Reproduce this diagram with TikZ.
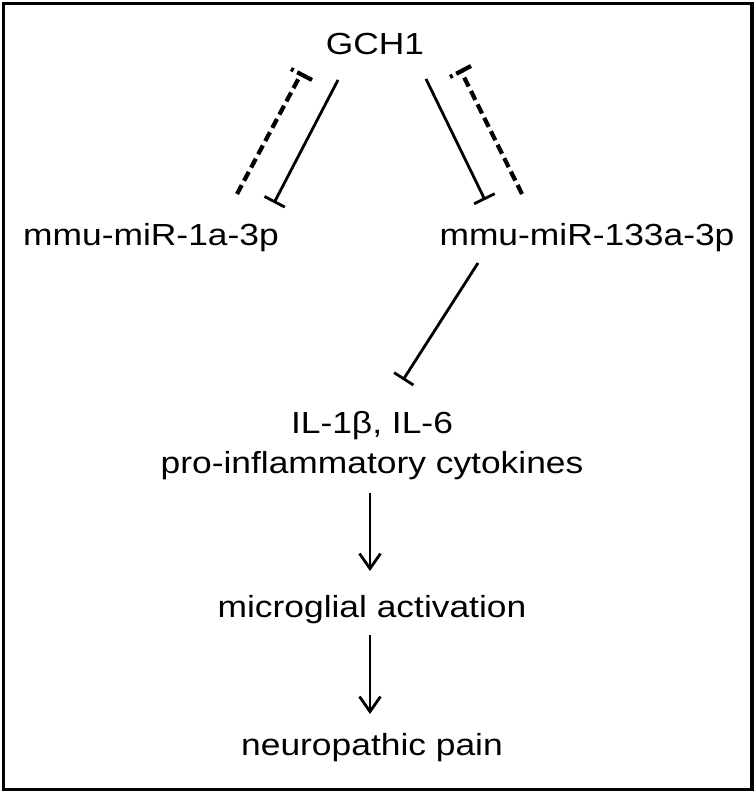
\documentclass[tikz,border=0pt]{standalone}
\usepackage{fontspec}
\setmainfont{Liberation Sans}
\usepackage{graphicx}
\usetikzlibrary{arrows.meta}
\tikzset{
  lbl/.style={anchor=base, inner sep=0pt, font=\fontsize{30.5bp}{36bp}\selectfont},
  inhib/.style={line width=2.8bp, -{Bar[width=23bp, line width=2.8bp]}},
  dashline/.style={line width=4.2bp, dash pattern=on 10bp off 5bp},
  dashbar/.style={line width=4.2bp, dash pattern=on 3bp off 4bp on 20bp off 0bp},
  act/.style={line width=2.8bp, -{Straight Barb[length=15bp, width=21bp, line width=2.8bp]}},
}
\newcommand{\sx}[1]{\scalebox{1.16}[1]{#1}}
\begin{document}
\begin{tikzpicture}[x=1bp, y=-1bp]
\useasboundingbox (0,0) rectangle (756,793);
\draw[line width=3.8bp] (3.5,3.5) rectangle (752,789.5);

\node[lbl] (gch) at (375,55) {\sx{GCH1}};
\node[lbl] (mir1) at (151,245) {\sx{mmu-miR-1a-3p}};
\node[lbl] (mir133) at (587,245) {\sx{mmu-miR-133a-3p}};
\node[lbl] (il) at (372,433) {\sx{IL-1β, IL-6}};
\node[lbl] (cyt) at (372,473) {\sx{pro-inflammatory cytokines}};
\node[lbl] (mic) at (372,617) {\sx{microglial activation}};
\node[lbl] (pain) at (372,755) {\sx{neuropathic pain}};

% GCH1 inhibits miRNAs (solid)
\coordinate (g1) at (338,80);
\coordinate (m1) at (274,203);
\draw[inhib] (g1) -- (m1);
\coordinate (g2) at (426,79);
\coordinate (m2) at (485,200);
\draw[inhib] (g2) -- (m2);

% miRNAs inhibit GCH1 (dashed)
\coordinate (d1s) at (237,194);
\coordinate (d1e) at (301,74);
\draw[dashline] (d1s) -- (d1e);
\coordinate (b1a) at (291,69);
\coordinate (b1b) at (312,80);
\draw[dashbar] (b1a) -- (b1b);

\coordinate (d2s) at (522,194);
\coordinate (d2e) at (461,71);
\draw[dashline] (d2s) -- (d2e);
\coordinate (b2a) at (450,77);
\coordinate (b2b) at (471,66);
\draw[dashbar] (b2a) -- (b2b);

% miR-133a inhibits cytokines
\coordinate (m3) at (478,263);
\coordinate (c3) at (403,380);
\draw[inhib] (m3) -- (c3);

% activation arrows
\coordinate (a1) at (370,493);
\coordinate (a2) at (370,571);
\draw[act] (a1) -- (a2);
\coordinate (a3) at (370,635);
\coordinate (a4) at (370,714);
\draw[act] (a3) -- (a4);
\end{tikzpicture}
\end{document}
